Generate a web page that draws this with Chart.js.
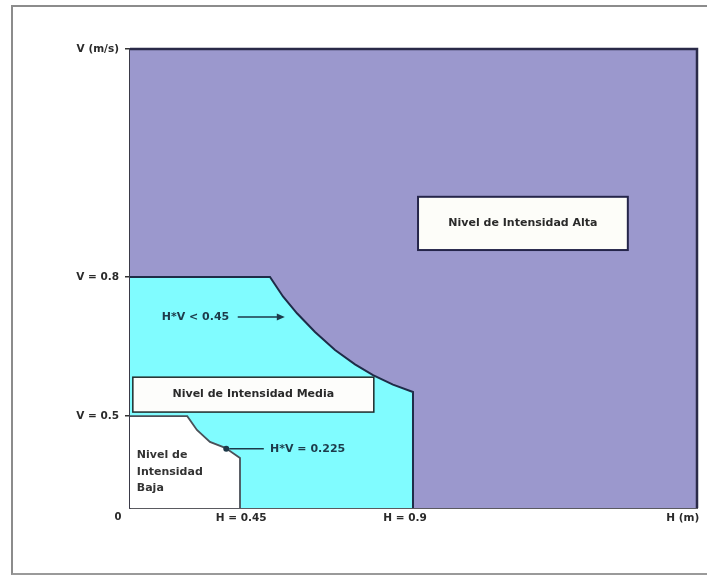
<!DOCTYPE html>
<html>
<head>
<meta charset="utf-8">
<script src="https://cdn.jsdelivr.net/npm/chart.js@4.4.1/dist/chart.umd.min.js"></script>
<style>
  html, body { margin: 0; padding: 0; background: #ffffff; }
  #wrap { position: relative; width: 707px; height: 575px; }
  #frame { position: absolute; left: 11px; top: 5px; width: 700px; height: 566px;
           border-top: 2px solid #8c8c8c; border-left: 2px solid #8c8c8c; border-bottom: 2px solid #9a9a9a; pointer-events: none; }
  canvas { position: absolute; left: 0; top: 0; }
</style>
</head>
<body>
<div id="wrap">
  <canvas id="c" width="707" height="575"></canvas>
  <div id="frame"></div>
</div>
<script>
// ---- Data (schematic diagram units, 0..100 on both axes) ----
const xTickPositions = [19.6, 48.5, 97.5];
const xTickLabels = ['H = 0.45', 'H = 0.9', 'H (m)'];
const yTickPositions = [20.0, 50.3, 100];
const yTickLabels = ['V = 0.5', 'V = 0.8', 'V (m/s)'];
const originLabel = '0';

// Nivel de Intensidad Alta (whole domain)
const regionAltaX = [0, 100, 100];
const regionAltaY = [100, 100, 0];
// Nivel de Intensidad Media (H*V < 0.45, V < 0.8, H < 0.9)
const regionMediaX = [0, 24.69, 26.98, 29.45, 32.63, 36.16, 39.68, 42.86, 46.38, 49.91, 49.91];
const regionMediaY = [50.33, 50.33, 46.08, 42.42, 38.34, 34.42, 31.29, 28.93, 26.88, 25.27, 0];
// Nivel de Intensidad Baja (H*V < 0.225, V < 0.5, H < 0.45)
const regionBajaX = [0, 10.1, 11.8, 14.1, 16.8, 19.4, 19.4];
const regionBajaY = [20.0, 20.0, 17.0, 14.4, 13.1, 10.9, 0];

const labelAlta = 'Nivel de Intensidad Alta';
const labelMedia = 'Nivel de Intensidad Media';
const labelBaja = ['Nivel de', 'Intensidad', 'Baja'];
const labelCurve045 = 'H*V < 0.45';
const labelCurve0225 = 'H*V = 0.225';

const toPts = (xs, ys) => xs.map((x, i) => ({ x: x, y: ys[i] }));

// ---- Annotation layout (diagram units) ----
const annot = {
  alta:  { x0: 50.8, x1: 87.8, y0: 67.8, y1: 56.2 },
  media: { x0: 0.5, x1: 43.0, y0: 28.5, y1: 20.9 },
  baja:  { x: 1.2, ys: [11.5, 7.8, 4.4] },
  c045:  { tx: 5.6, ty: 41.6, ax0: 19.0, ax1: 27.3 },
  c0225: { tx: 24.7, ty: 12.9, ax0: 23.6, ax1: 16.8 }
};

const FAM = '"DejaVu Sans", Verdana, sans-serif';
const BOLD = 'bold 11px ' + FAM;

const annotPlugin = {
  id: 'annot',
  afterDatasetsDraw(chart) {
    const ctx = chart.ctx;
    const xs = chart.scales.x, ys = chart.scales.y;
    const X = v => xs.getPixelForValue(v), Y = v => ys.getPixelForValue(v);
    ctx.save();
    // Alta box
    let b = annot.alta;
    ctx.fillStyle = '#fdfdf9';
    ctx.fillRect(X(b.x0), Y(b.y0), X(b.x1) - X(b.x0), Y(b.y1) - Y(b.y0));
    ctx.lineWidth = 2; ctx.strokeStyle = '#25254a';
    ctx.strokeRect(X(b.x0), Y(b.y0), X(b.x1) - X(b.x0), Y(b.y1) - Y(b.y0));
    ctx.fillStyle = '#2a2a2a'; ctx.font = BOLD; ctx.textAlign = 'center'; ctx.textBaseline = 'middle';
    ctx.fillText(labelAlta, (X(b.x0) + X(b.x1)) / 2, (Y(b.y0) + Y(b.y1)) / 2);
    // Media box
    b = annot.media;
    ctx.fillStyle = '#fdfdfb';
    ctx.fillRect(X(b.x0), Y(b.y0), X(b.x1) - X(b.x0), Y(b.y1) - Y(b.y0));
    ctx.lineWidth = 1.5; ctx.strokeStyle = '#1e2a2a';
    ctx.strokeRect(X(b.x0), Y(b.y0), X(b.x1) - X(b.x0), Y(b.y1) - Y(b.y0));
    ctx.fillStyle = '#2a2a2a';
    ctx.fillText(labelMedia, (X(b.x0) + X(b.x1)) / 2, (Y(b.y0) + Y(b.y1)) / 2);
    // Baja text
    ctx.textAlign = 'left'; ctx.fillStyle = '#333333';
    labelBaja.forEach((t, i) => ctx.fillText(t, X(annot.baja.x), Y(annot.baja.ys[i])));
    // H*V < 0.45 with arrow
    let a = annot.c045;
    ctx.fillStyle = '#1d3a4a'; ctx.strokeStyle = '#1d3a4a'; ctx.lineWidth = 1.5;
    ctx.fillText(labelCurve045, X(a.tx), Y(a.ty));
    ctx.beginPath(); ctx.moveTo(X(a.ax0), Y(a.ty)); ctx.lineTo(X(a.ax1) - 6, Y(a.ty)); ctx.stroke();
    ctx.beginPath(); ctx.moveTo(X(a.ax1), Y(a.ty)); ctx.lineTo(X(a.ax1) - 8, Y(a.ty) - 3.5); ctx.lineTo(X(a.ax1) - 8, Y(a.ty) + 3.5); ctx.closePath(); ctx.fill();
    // H*V = 0.225 with arrow pointing to curve
    a = annot.c0225;
    ctx.fillText(labelCurve0225, X(a.tx), Y(a.ty));
    ctx.beginPath(); ctx.moveTo(X(a.ax0), Y(a.ty)); ctx.lineTo(X(a.ax1) + 4, Y(a.ty)); ctx.stroke();
    ctx.beginPath(); ctx.arc(X(a.ax1) + 1, Y(a.ty), 3, 0, Math.PI * 2); ctx.fill();
    // origin label
    ctx.fillStyle = '#2a2a2a'; ctx.textAlign = 'center';
    ctx.font = 'bold 10px ' + FAM;
    ctx.fillText(originLabel, X(0) - 12, Y(0) + 9);
    ctx.restore();
  }
};

new Chart(document.getElementById('c'), {
  type: 'line',
  data: {
    datasets: [
      { label: 'Baja', data: toPts(regionBajaX, regionBajaY), fill: 'origin',
        backgroundColor: '#ffffff', borderColor: '#4a5058', borderWidth: 1.8, pointRadius: 0, tension: 0, clip: false },
      { label: 'Media', data: toPts(regionMediaX, regionMediaY), fill: 'origin',
        backgroundColor: '#80fcff', borderColor: '#1f2c48', borderWidth: 2, pointRadius: 0, tension: 0, clip: false },
      { label: 'Alta', data: toPts(regionAltaX, regionAltaY), fill: 'origin',
        backgroundColor: '#9b98cd', borderColor: '#2a2a48', borderWidth: 2.5, pointRadius: 0, tension: 0, clip: false }
    ]
  },
  options: {
    responsive: false,
    animation: false,
    events: [],
    layout: { padding: { top: 49, right: 10, left: 0, bottom: 0 } },
    plugins: { legend: { display: false }, tooltip: { enabled: false } },
    scales: {
      x: {
        type: 'linear', min: 0, max: 100,
        afterFit(s) { s.height = 67; },
        afterBuildTicks(s) { s.ticks = xTickPositions.map(v => ({ value: v })); },
        ticks: {
          autoSkip: false, maxRotation: 0, padding: 4, color: '#2a2a2a',
          font: { family: FAM, size: 10.5, weight: 'bold' },
          callback: (v) => xTickLabels[xTickPositions.indexOf(v)]
        },
        grid: { display: true, drawOnChartArea: false, drawTicks: false },
        border: { display: true, color: '#5a5a60', width: 2 }
      },
      y: {
        type: 'linear', min: 0, max: 100,
        afterFit(s) { s.width = 130; },
        afterBuildTicks(s) { s.ticks = yTickPositions.map(v => ({ value: v })); },
        ticks: {
          autoSkip: false, padding: 6, color: '#2a2a2a',
          font: { family: FAM, size: 10.5, weight: 'bold' },
          callback: (v) => yTickLabels[yTickPositions.indexOf(v)]
        },
        grid: { display: true, drawOnChartArea: false, drawTicks: true, tickLength: 5, color: '#333', lineWidth: 1.5 },
        border: { display: true, color: '#3a3a48', width: 2 }
      }
    }
  },
  plugins: [annotPlugin]
});
</script>
</body>
</html>
